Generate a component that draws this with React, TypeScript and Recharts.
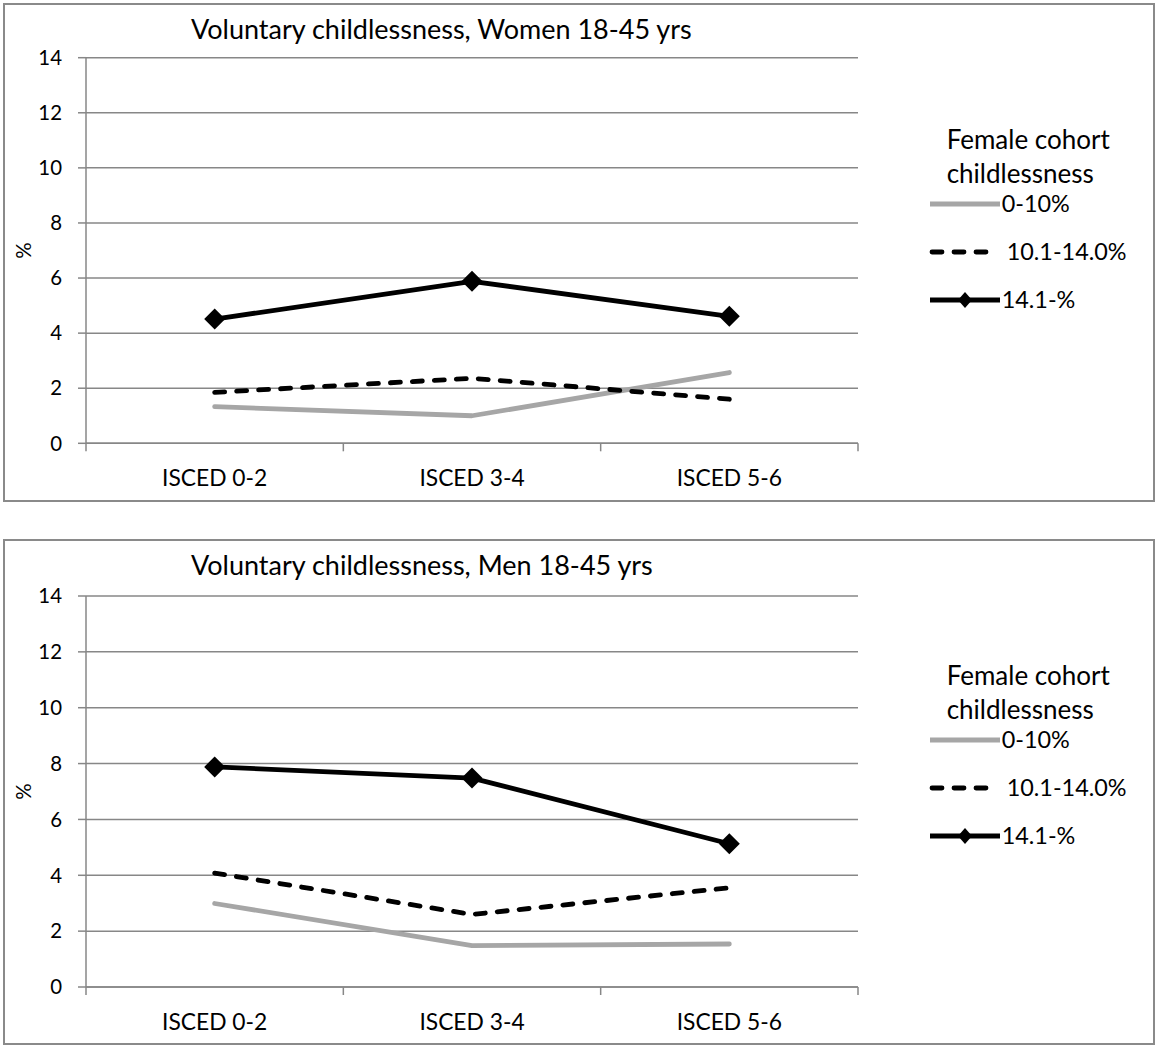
import React from 'react';
import { LineChart, Line, XAxis, YAxis, CartesianGrid, Legend, Label } from 'recharts';

const categories = ['ISCED 0-2', 'ISCED 3-4', 'ISCED 5-6'];
const seriesNames = ['0-10%', '10.1-14.0%', '14.1-%'];
const legendTitle = ['Female cohort', 'childlessness'];
const yTicks = [0, 2, 4, 6, 8, 10, 12, 14];

const womenLow = [1.33, 1.0, 2.57];
const womenMid = [1.85, 2.36, 1.6];
const womenHigh = [4.51, 5.88, 4.61];

const menLow = [2.99, 1.48, 1.54];
const menMid = [4.08, 2.6, 3.55];
const menHigh = [7.88, 7.48, 5.13];

const FONT = 'Lato, Carlito, "Open Sans", sans-serif';
const GRID = '#878787';
const LW = 4.8;

const SERIES = [
  { key: 'low', name: seriesNames[0], color: '#A6A6A6', dash: undefined as string | undefined, marker: false },
  { key: 'mid', name: seriesNames[1], color: '#000000', dash: '10 12', marker: false },
  { key: 'high', name: seriesNames[2], color: '#000000', dash: undefined as string | undefined, marker: true },
];

// boundaries (integers) carry tick marks, band centres (halves) carry labels
const xTicks = [0, 0.5, 1, 1.5, 2, 2.5, 3];

function buildRows(low: number[], mid: number[], high: number[]) {
  return categories.map((c, i) => ({ pos: i + 0.5, cat: c, low: low[i], mid: mid[i], high: high[i] }));
}

const Diamond = (props: any) => {
  const { cx, cy } = props;
  if (cx == null || cy == null) return null;
  const r = 10.5;
  return <path d={`M${cx},${cy - r}L${cx + r},${cy}L${cx},${cy + r}L${cx - r},${cy}Z`} fill="#000" />;
};

const XTick = (props: any) => {
  const { x, y, payload } = props;
  const v = payload.value as number;
  if (Number.isInteger(v)) {
    return <line x1={x} x2={x} y1={y} y2={y + 8} stroke={GRID} strokeWidth={1.5} />;
  }
  const label = categories[Math.floor(v)];
  return (
    <text x={x} y={y + 43} textAnchor="middle" fontSize={22.8} fill="#000" fontFamily={FONT}>
      {label}
    </text>
  );
};

const LegendContent = (props: any) => {
  const payload = (props.payload || []) as any[];
  return (
    <svg width={232} height={210} style={{ overflow: 'visible', fontFamily: FONT }}>
      <text x={21.7} y={29.3} fontSize={26} fill="#000">{legendTitle[0]}</text>
      <text x={21.7} y={63.3} fontSize={26} fill="#000">{legendTitle[1]}</text>
      {payload.map((item, i) => {
        const s = SERIES.find((q) => q.key === item.dataKey) || SERIES[i];
        const ly = 84 + i * 48;
        return (
          <g key={String(item.dataKey)}>
            <line
              x1={s.dash ? 7 : 5}
              x2={s.dash ? 73 : 75}
              y1={ly}
              y2={ly}
              stroke={item.color}
              strokeWidth={LW}
              strokeDasharray={s.dash}
              strokeLinecap={s.dash ? 'round' : 'butt'}
            />
            {s.marker ? <path d={`M40,${ly - 8}L47,${ly}L40,${ly + 8}L33,${ly}Z`} fill="#000" /> : null}
            <text x={s.dash ? 81.7 : 76.7} y={ly + 7.5} fontSize={23.4} fill="#000">
              {item.value}
            </text>
          </g>
        );
      })}
    </svg>
  );
};

type PanelProps = {
  title: string;
  rows: any[];
  top: number;
  boxTop: number;
  boxHeight: number;
  plotTop: number;
  plotBottom: number;
};

const CH = 520;
const XH = 50;
const YW = 60;

function Panel({ title, rows, top, boxTop, boxHeight, plotTop, plotBottom }: PanelProps) {
  return (
    <>
      <div
        style={{
          position: 'absolute',
          left: 3,
          top: boxTop,
          width: 1152,
          height: boxHeight,
          border: '2px solid #8a8a8a',
          boxSizing: 'border-box',
          background: '#fff',
        }}
      />
      <div style={{ position: 'absolute', left: 0, top, width: 1157, height: CH, fontFamily: FONT }}>
        <LineChart
          width={1157}
          height={CH}
          data={rows}
          margin={{ top: plotTop, right: 1157 - 858, bottom: CH - plotBottom - XH, left: 86 - YW }}
        >
          <CartesianGrid vertical={false} stroke={GRID} strokeWidth={1.5} />
          <XAxis
            dataKey="pos"
            type="number"
            domain={[0, 3]}
            ticks={xTicks}
            interval={0}
            height={XH}
            tickSize={0}
            tickMargin={0}
            tickLine={false}
            axisLine={{ stroke: GRID, strokeWidth: 1.5 }}
            tick={<XTick />}
          />
          <YAxis
            type="number"
            domain={[0, 14]}
            ticks={yTicks}
            interval={0}
            width={YW}
            tickSize={8}
            tickMargin={16}
            axisLine={{ stroke: GRID, strokeWidth: 1.5 }}
            tickLine={{ stroke: GRID, strokeWidth: 1.5 }}
            tick={{ fill: '#000', fontSize: 20.4, fontFamily: FONT }}
          >
            <Label
              content={(p: any) => {
                const vb = p.viewBox || {};
                const cx = vb.x - 3.5;
                const cy = vb.y + vb.height / 2;
                return (
                  <text
                    x={cx}
                    y={cy}
                    transform={`rotate(-90, ${cx}, ${cy})`}
                    textAnchor="middle"
                    dominantBaseline="central"
                    fontSize={20.4}
                    fill="#000"
                    fontFamily={FONT}
                  >
                    %
                  </text>
                );
              }}
            />
          </YAxis>
          {SERIES.map((s) => (
            <Line
              key={s.key}
              dataKey={s.key}
              name={s.name}
              stroke={s.color}
              strokeWidth={LW}
              strokeDasharray={s.dash}
              strokeLinecap={s.dash ? 'round' : 'round'}
              strokeLinejoin="round"
              dot={s.marker ? <Diamond /> : false}
              activeDot={false}
              isAnimationActive={false}
            />
          ))}
          <Legend
            layout="vertical"
            align="center"
            verticalAlign="middle"
            wrapperStyle={{ left: 925, top: 120, width: 232, height: 210 }}
            content={<LegendContent />}
          />
        </LineChart>
        <svg
          width={1157}
          height={60}
          style={{ position: 'absolute', left: 0, top: 0, pointerEvents: 'none', overflow: 'visible' }}
        >
          <text x={191} y={39.3} textAnchor="start" fontSize={27} fill="#000" fontFamily={FONT}>
            {title}
          </text>
        </svg>
      </div>
    </>
  );
}

export default function App() {
  const women = buildRows(womenLow, womenMid, womenHigh);
  const men = buildRows(menLow, menMid, menHigh);
  return (
    <div style={{ position: 'absolute', left: 0, top: 0, width: 1157, height: 1046, background: '#fff' }}>
      <Panel
        title="Voluntary childlessness, Women 18-45 yrs"
        rows={women}
        top={0}
        boxTop={3}
        boxHeight={499}
        plotTop={57.7}
        plotBottom={443.3}
      />
      <Panel
        title="Voluntary childlessness, Men 18-45 yrs"
        rows={men}
        top={536}
        boxTop={539}
        boxHeight={506}
        plotTop={60}
        plotBottom={451}
      />
    </div>
  );
}
